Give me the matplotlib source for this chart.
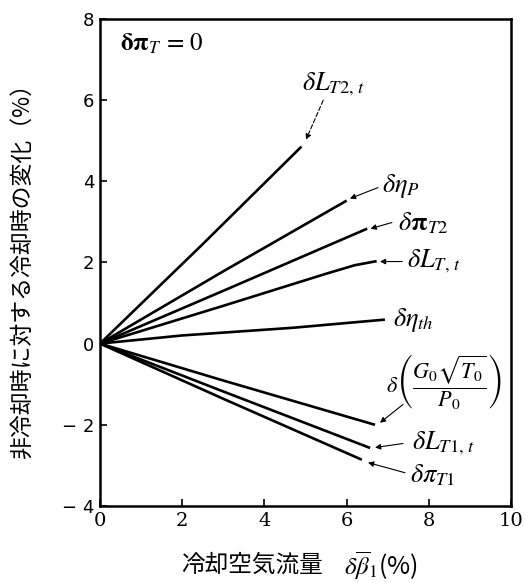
import matplotlib
matplotlib.use('Agg')
from matplotlib import pyplot as plt

plt.rcParams['font.family'] = ['Noto Sans CJK JP', 'DejaVu Sans']
plt.rcParams['mathtext.fontset'] = 'stix'

# cooling air flow (%) vs change relative to the uncooled case (%)
x_LT2 = [0, 2.5, 4.9]
y_LT2 = [0, 2.45, 4.85]
x_etaP = [0, 3.0, 6.0]
y_etaP = [0, 1.78, 3.52]
x_piT2 = [0, 3.0, 6.5]
y_piT2 = [0, 1.3, 2.83]
x_LT = [0, 3.0, 5.5, 6.2, 6.73]
y_LT = [0, 0.93, 1.72, 1.93, 2.03]
x_etath = [0, 2.0, 4.7, 6.93]
y_etath = [0, 0.2, 0.39, 0.59]
x_G = [0, 3.0, 6.69]
y_G = [0, -0.91, -2.0]
x_LT1 = [0, 3.0, 6.57]
y_LT1 = [0, -1.18, -2.57]
x_piT1 = [0, 3.0, 6.37]
y_piT1 = [0, -1.36, -2.86]

x_ticks = [0, 2, 4, 6, 8, 10]
y_ticks = [-4, -2, 0, 2, 4, 6, 8]
y_ticklabels = ['\u2212 4', '\u2212 2', '0', '2', '4', '6', '8']

fig = plt.figure(figsize=(5.25, 5.83), dpi=100)
ax = fig.add_axes([0.1905, 0.132, 0.783, 0.836])

for xs, ys in [(x_LT2, y_LT2), (x_etaP, y_etaP), (x_piT2, y_piT2), (x_LT, y_LT),
               (x_etath, y_etath), (x_G, y_G), (x_LT1, y_LT1), (x_piT1, y_piT1)]:
    ax.plot(xs, ys, color='black', lw=1.9, solid_capstyle='butt')

ax.set_xlim(0, 10)
ax.set_ylim(-4, 8)
ax.set_xticks(x_ticks)
ax.set_xticklabels([str(v) for v in x_ticks], family='DejaVu Serif', fontsize=14)
ax.set_yticks(y_ticks)
ax.set_yticklabels(y_ticklabels, family='DejaVu Sans', fontsize=13)
ax.tick_params(direction='in', length=5, width=1.2, pad=4)
for s in ax.spines.values():
    s.set_linewidth(1.8)

arrow = dict(arrowstyle='-|>', color='black', lw=0.8, mutation_scale=8, shrinkA=0, shrinkB=0)
ax.text(0.49, 7.39, r'$\mathbf{\delta\pi}_T\,=\,0$', fontsize=18, va='center')

# labels with leader lines
ax.text(4.91, 6.38, r'$\delta L_{T2,\,t}$', fontsize=19, va='center')
ax.annotate('', xy=(5.01, 5.02), xytext=(5.43, 5.99),
            arrowprops=dict(arrow, linestyle=(0, (4, 2))))
ax.text(6.86, 3.89, r'$\delta \eta_P$', fontsize=19, va='center')
ax.annotate('', xy=(6.08, 3.57), xytext=(6.76, 3.84), arrowprops=arrow)
ax.text(7.25, 2.98, r'$\delta \mathbf{\pi}_{T2}$', fontsize=19, va='center')
ax.annotate('', xy=(6.58, 2.83), xytext=(7.1, 2.98), arrowprops=arrow)
ax.text(7.47, 2.02, r'$\delta L_{T,\,t}$', fontsize=19, va='center')
ax.annotate('', xy=(6.81, 2.02), xytext=(7.35, 2.02), arrowprops=arrow)
ax.text(7.13, 0.57, r'$\delta \eta_{th}$', fontsize=19, va='center')
ax.text(6.95, -0.94, r'$\delta\left(\dfrac{G_0\sqrt{T_0}}{P_0}\right)$', fontsize=16, va='center')
ax.annotate('', xy=(6.81, -1.95), xytext=(7.37, -1.5), arrowprops=arrow)
ax.text(7.59, -2.46, r'$\delta L_{T1,\,t}$', fontsize=19, va='center')
ax.annotate('', xy=(6.69, -2.56), xytext=(7.37, -2.46), arrowprops=arrow)
ax.text(7.54, -3.23, r'$\delta \pi_{T1}$', fontsize=19, va='center')
ax.annotate('', xy=(6.52, -2.93), xytext=(7.42, -3.18), arrowprops=arrow)

fig.text(0.042, 0.545, '非冷却時に対する冷却時の変化（%）', rotation=90,
         ha='center', va='center', fontsize=16.5)
fig.text(0.615, 0.03, '冷却空気流量', ha='right', va='center', fontsize=17)
fig.text(0.655, 0.03, r'$\delta\overline{\beta}_1$(%)', ha='left', va='center', fontsize=18)

fig.savefig('out.png', dpi=100)
